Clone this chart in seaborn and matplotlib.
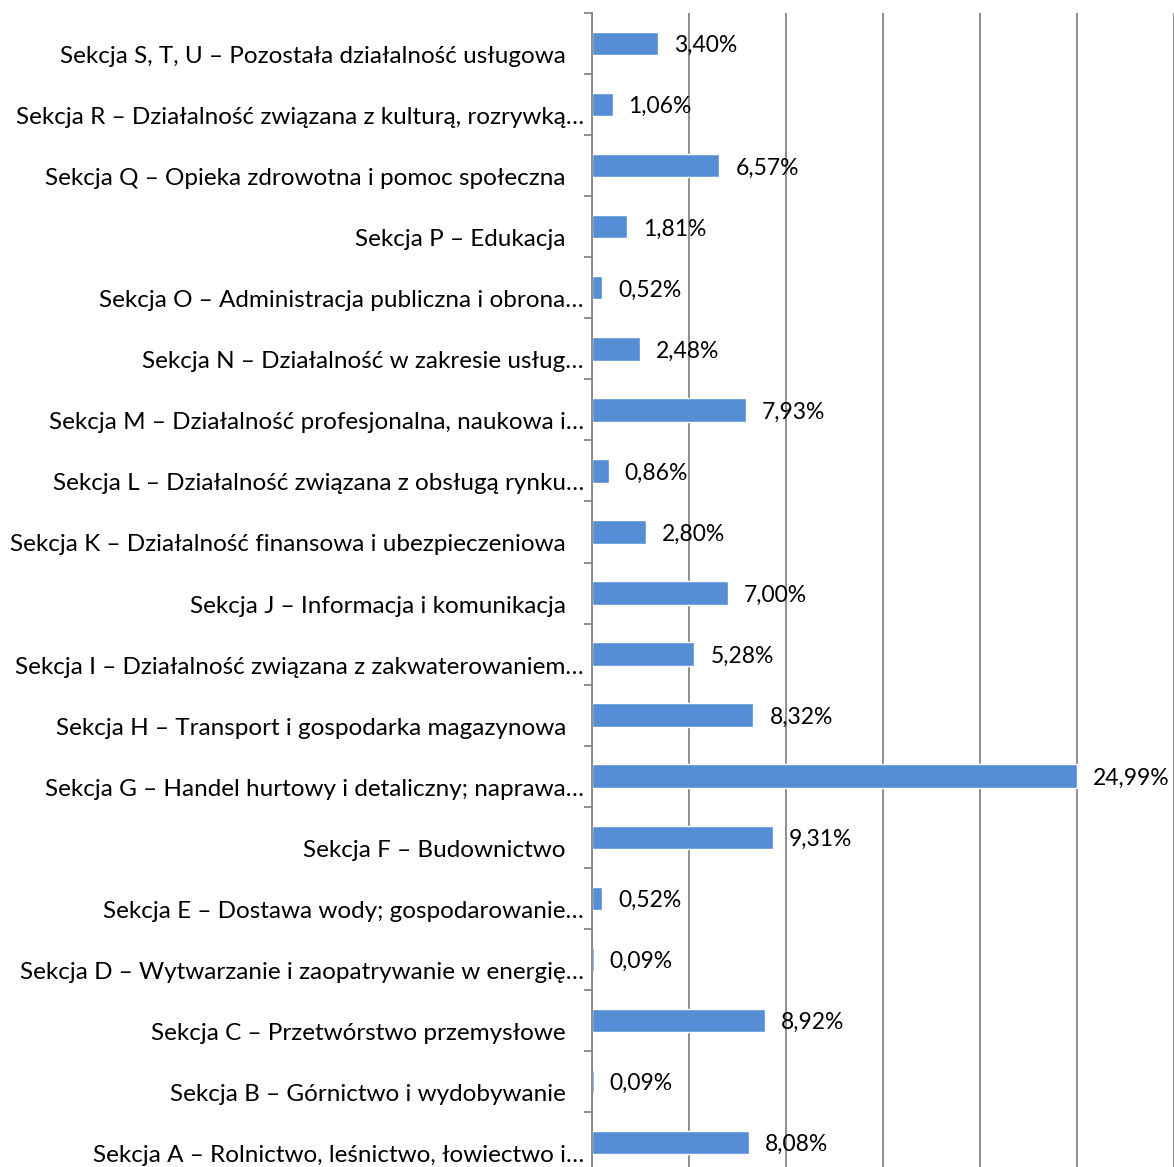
import matplotlib
matplotlib.use("Agg")
import matplotlib.pyplot as plt
import matplotlib.transforms as mtransforms
import seaborn as sns
import pandas as pd

# dane: udział sekcji PKD (kolejność od góry wykresu)
sections = [
    "Sekcja S, T, U – Pozostała działalność usługowa",
    "Sekcja R – Działalność związana z kulturą, rozrywką…",
    "Sekcja Q – Opieka zdrowotna i pomoc społeczna",
    "Sekcja P – Edukacja",
    "Sekcja O – Administracja publiczna i obrona…",
    "Sekcja N – Działalność w zakresie usług…",
    "Sekcja M – Działalność profesjonalna, naukowa i…",
    "Sekcja L – Działalność związana z obsługą rynku…",
    "Sekcja K – Działalność finansowa i ubezpieczeniowa",
    "Sekcja J – Informacja i komunikacja",
    "Sekcja I – Działalność związana z zakwaterowaniem…",
    "Sekcja H – Transport i gospodarka magazynowa",
    "Sekcja G – Handel hurtowy i detaliczny; naprawa…",
    "Sekcja F – Budownictwo",
    "Sekcja E – Dostawa wody; gospodarowanie…",
    "Sekcja D – Wytwarzanie i zaopatrywanie w energię…",
    "Sekcja C – Przetwórstwo przemysłowe",
    "Sekcja B – Górnictwo i wydobywanie",
    "Sekcja A – Rolnictwo, leśnictwo, łowiectwo i…",
]
shares = [3.40, 1.06, 6.57, 1.81, 0.52, 2.48, 7.93, 0.86, 2.80, 7.00,
          5.28, 8.32, 24.99, 9.31, 0.52, 0.09, 8.92, 0.09, 8.08]

df = pd.DataFrame({"sekcja": sections, "udzial": shares})

sns.set_style("white")
plt.rcParams["font.family"] = ["Lato", "DejaVu Sans"]

fig = plt.figure(figsize=(11.74, 11.67), dpi=100)
ax = fig.add_axes([592 / 1174, -0.0049, 582 / 1174, 0.9935])

sns.barplot(data=df, y="sekcja", x="udzial", orient="h", color="#558ED5",
            saturation=1, width=0.38, ax=ax)

ax.set_xlim(0, 30)
ax.set_ylim(len(sections) - 0.5, -0.5)
ax.set_xticks(range(0, 31, 5))
ax.set_xticklabels([])
ax.tick_params(axis="x", length=0)
ax.grid(axis="x", color="#868686", linewidth=1.3)
ax.set_axisbelow(True)
ax.set_xlabel("")
ax.set_ylabel("")

# podziałka na granicach kategorii
ax.set_yticks([i - 0.5 for i in range(len(sections) + 1)])
ax.set_yticklabels([])
ax.tick_params(axis="y", direction="out", length=5.5, width=1.3, color="#868686", left=True)

for side in ["top", "right", "bottom"]:
    ax.spines[side].set_visible(False)
ax.spines["left"].set_color("#868686")
ax.spines["left"].set_linewidth(1.3)

# etykiety kategorii (lekko poniżej środka słupka, jak w Excelu)
trans = mtransforms.blended_transform_factory(ax.transAxes, ax.transData)
for i, name in enumerate(sections):
    dx = -8 if name.endswith("…") else -26
    off = mtransforms.offset_copy(trans, fig=fig, x=dx, y=-13, units="dots")
    ax.text(0, i, name, transform=off, ha="right", va="center",
            fontsize=17.5, color="black")

# etykiety wartości
for i, v in enumerate(shares):
    off = mtransforms.offset_copy(ax.transData, fig=fig, x=16, y=-2, units="dots")
    ax.text(v, i, f"{v:.2f}%".replace(".", ","), transform=off, ha="left",
            va="center", fontsize=16.5, color="black")

fig.savefig("out.png", dpi=100)
